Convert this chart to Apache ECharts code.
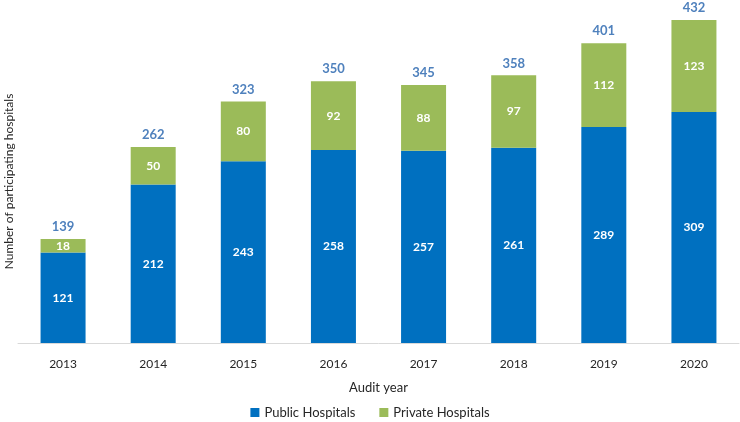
<!DOCTYPE html>
<html><head><meta charset="utf-8">
<script src="https://cdn.jsdelivr.net/npm/echarts@6/dist/echarts.min.js"></script>
<style>html,body{margin:0;padding:0;background:#fff}#c{width:740px;height:422px}</style>
</head><body><div id="c"></div>
<script>
var years = ['2013','2014','2015','2016','2017','2018','2019','2020'];
var publicHosp = [121,212,243,258,257,261,289,309];
var privateHosp = [18,50,80,92,88,97,112,123];
var totals = [139,262,323,350,345,358,401,432];
var F = 'Lato, "Open Sans", sans-serif';
var chart = echarts.init(document.getElementById('c'));
chart.setOption({
  animation:false,
  textStyle:{fontFamily:F},
  grid:{left:18,right:1,top:20,bottom:79,containLabel:false,outerBoundsMode:'none'},
  legend:{bottom:-2,left:'center',itemWidth:9,itemHeight:9,itemGap:24,icon:'rect',
    textStyle:{fontFamily:F,fontSize:13,color:'#262626'},
    data:['Public Hospitals','Private Hospitals']},
  xAxis:{type:'category',data:years,
    axisLine:{lineStyle:{color:'#d9d9d9'}},axisTick:{show:false},
    axisLabel:{color:'#262626',fontSize:12,fontFamily:F,margin:15},
    name:'Audit year',nameLocation:'middle',nameGap:38,
    nameTextStyle:{color:'#262626',fontSize:13,fontFamily:F}},
  yAxis:{type:'value',min:0,max:432,axisLabel:{show:false},splitLine:{show:false},
    axisLine:{show:false},axisTick:{show:false},
    name:'Number of participating hospitals',nameLocation:'middle',nameGap:3,
    nameTextStyle:{color:'#262626',fontSize:12,fontFamily:F}},
  series:[
    {name:'Public Hospitals',type:'bar',stack:'a',data:publicHosp,barWidth:45,
     itemStyle:{color:'#0070C0'},
     label:{show:true,position:'inside',color:'#fff',fontWeight:'bold',fontSize:12,fontFamily:F}},
    {name:'Private Hospitals',type:'bar',stack:'a',data:privateHosp,barWidth:45,
     itemStyle:{color:'#9BBB59'},
     label:{show:true,position:'inside',color:'#fff',fontWeight:'bold',fontSize:12,fontFamily:F}},
    {name:'Total',type:'line',data:totals,symbol:'circle',symbolSize:1,showSymbol:true,
     itemStyle:{color:'rgba(0,0,0,0)'},lineStyle:{width:0,color:'rgba(0,0,0,0)'},silent:true,z:5,
     label:{show:true,position:'top',distance:5,color:'#4F81BD',fontWeight:'bold',fontSize:13,fontFamily:F}}
  ]
});
</script></body></html>
